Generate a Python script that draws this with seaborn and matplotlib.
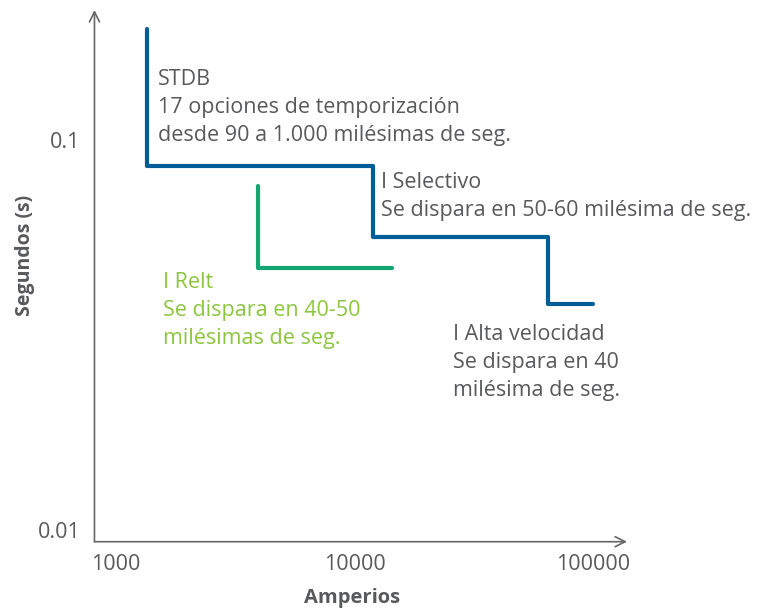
import pandas as pd
import matplotlib.pyplot as plt
import seaborn as sns

# Curve data (log-log)
stdb_amps = [1354, 1354, 11900, 11900, 64400, 64400, 99500]
stdb_secs = [0.1926, 0.0855, 0.0855, 0.0564, 0.0564, 0.038, 0.038]
relt_amps = [3920, 3920, 14300]
relt_secs = [0.0762, 0.047, 0.047]

x_ticks = [1000, 10000, 100000]
x_tick_labels = ["1000", "10000", "100000"]
y_ticks = [0.01, 0.1]
y_tick_labels = ["0.01", "0.1"]

BLUE = "#005e96"
GREEN = "#13a873"
LIGHT_GREEN = "#8cc63f"
GREY = "#58595b"

df = pd.concat([
    pd.DataFrame({"amperios": stdb_amps, "segundos": stdb_secs, "curva": "stdb"}),
    pd.DataFrame({"amperios": relt_amps, "segundos": relt_secs, "curva": "relt"}),
])

sns.set_style("white")
plt.rcParams["font.family"] = ["Open Sans", "DejaVu Sans"]

fig = plt.figure(figsize=(7.6, 6.13), dpi=100)
ax = fig.add_axes([0.1243, 0.1163, 0.7007, 0.8674])

sns.lineplot(data=df, x="amperios", y="segundos", hue="curva", units="curva",
             estimator=None, sort=False, palette={"stdb": BLUE, "relt": GREEN},
             linewidth=3, legend=False, ax=ax)

ax.set_xscale("log")
ax.set_yscale("log")
ax.set_xlim(812, 138000)
ax.set_ylim(0.00933, 0.2154)
ax.set_xticks(x_ticks)
ax.set_xticklabels(x_tick_labels)
ax.set_yticks(y_ticks)
ax.set_yticklabels(y_tick_labels)
ax.minorticks_off()
ax.tick_params(length=0, labelsize=15.5, colors=GREY)
ax.tick_params(axis="x", pad=9)
ax.tick_params(axis="y", pad=10)

ax.set_xlabel("Amperios", fontsize=14.5, fontweight="bold", color=GREY, va="center")
ax.set_ylabel("Segundos (s)", fontsize=14, fontweight="bold", color=GREY, va="center")
ax.xaxis.set_label_coords(0.4836, -0.106)
ax.yaxis.set_label_coords(-0.1305, 0.539)

# axes drawn as open arrows
for s in ax.spines.values():
    s.set_visible(False)
arrow = dict(arrowstyle="->", color="#666666", lw=1.2, mutation_scale=18, shrinkA=0, shrinkB=0)
ax.annotate("", xy=(1.0, 0), xytext=(0, 0), xycoords="axes fraction", arrowprops=arrow, annotation_clip=False)
ax.annotate("", xy=(0, 1.0), xytext=(0, 0), xycoords="axes fraction", arrowprops=arrow, annotation_clip=False)

txt = dict(fontsize=15.5, color=GREY, va="top", ha="left", linespacing=1.45)
ax.text(1499, 0.1524, "STDB\n17 opciones de temporización\ndesde 90 a 1.000 milésimas de seg.", **txt)
ax.text(12880, 0.0829, "I Selectivo\nSe dispara en 50-60 milésima de seg.", **txt)
ax.text(1573, 0.04595, "I Relt\nSe dispara en 40-50\nmilésimas de seg.", **dict(txt, color=LIGHT_GREEN))
ax.text(25760, 0.0338, "I Alta velocidad\nSe dispara en 40\nmilésima de seg.", **txt)

fig.savefig("out.png", dpi=100)
